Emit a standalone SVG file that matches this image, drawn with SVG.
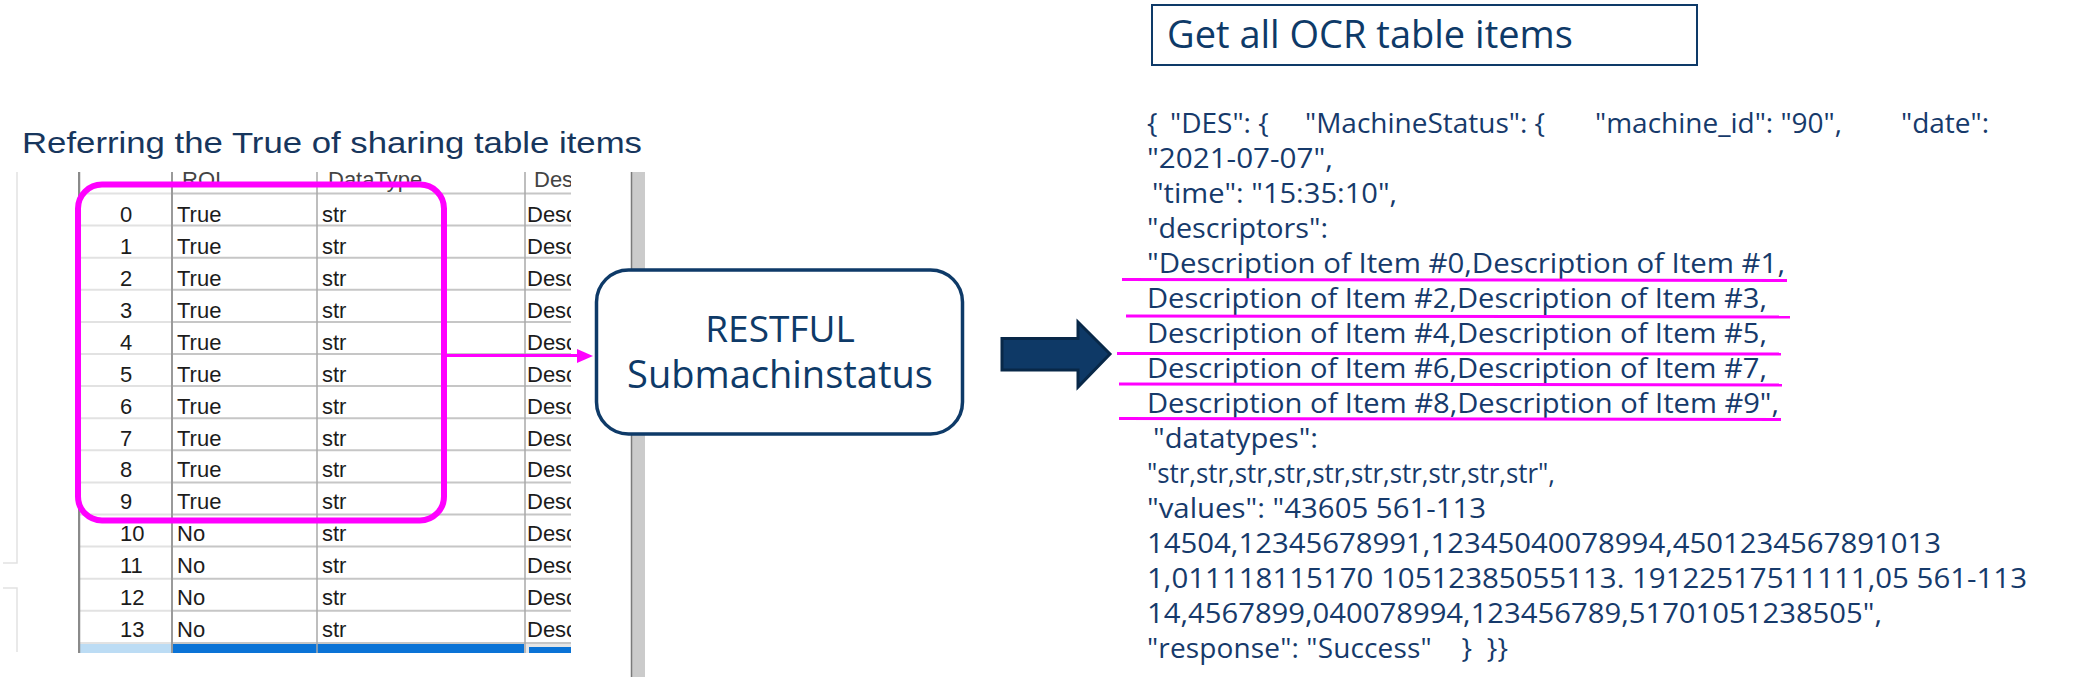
<svg xmlns="http://www.w3.org/2000/svg" width="2077" height="684" viewBox="0 0 2077 684">
<style>
.title{font-family:"Liberation Sans",Arial,sans-serif;font-size:30px;fill:#17365d}
.cell{font-family:"Liberation Sans",Arial,sans-serif;font-size:22px;fill:#1c1c1c}
.hdr{font-family:"Liberation Sans",Arial,sans-serif;font-size:22px;fill:#444}
.json{font-family:"Open Sans","Noto Sans",sans-serif;font-size:28px;fill:#163a6b;white-space:pre}
.box{font-family:"Open Sans","Noto Sans",sans-serif;fill:#0e3a68}
.rowl{stroke:#c6c6c6;stroke-width:2}
.rowi{stroke:#e2e2e2;stroke-width:2}
.vl{stroke:#a8a8a8;stroke-width:1.5}
.hl{stroke:#ff00ff;stroke-width:3;fill:none}
</style>
<defs>
<clipPath id="tclip"><rect x="78" y="172" width="493" height="481"/></clipPath>
</defs>
<rect width="2077" height="684" fill="#fff"/>

<g id="title">
<text class="title" x="22" y="153" textLength="620" lengthAdjust="spacingAndGlyphs">Referring the True of sharing table items</text>
</g>

<g id="table-screenshot">
<g stroke="#e2e2e2" stroke-width="1.5" fill="none">
<polyline points="17,172 17,563 3,563"/>
<polyline points="3,588 17,588 17,652"/>
</g>
<g clip-path="url(#tclip)">
<g id="rowlines">
<line class="rowi" x1="80" y1="193.5" x2="172" y2="193.5"/><line class="rowl" x1="172" y1="193.5" x2="571" y2="193.5"/>
<line class="rowi" x1="80" y1="225.6" x2="172" y2="225.6"/><line class="rowl" x1="172" y1="225.6" x2="571" y2="225.6"/>
<line class="rowi" x1="80" y1="257.7" x2="172" y2="257.7"/><line class="rowl" x1="172" y1="257.7" x2="571" y2="257.7"/>
<line class="rowi" x1="80" y1="289.8" x2="172" y2="289.8"/><line class="rowl" x1="172" y1="289.8" x2="571" y2="289.8"/>
<line class="rowi" x1="80" y1="321.9" x2="172" y2="321.9"/><line class="rowl" x1="172" y1="321.9" x2="571" y2="321.9"/>
<line class="rowi" x1="80" y1="354" x2="172" y2="354"/><line class="rowl" x1="172" y1="354" x2="571" y2="354"/>
<line class="rowi" x1="80" y1="386.1" x2="172" y2="386.1"/><line class="rowl" x1="172" y1="386.1" x2="571" y2="386.1"/>
<line class="rowi" x1="80" y1="418.2" x2="172" y2="418.2"/><line class="rowl" x1="172" y1="418.2" x2="571" y2="418.2"/>
<line class="rowi" x1="80" y1="450.3" x2="172" y2="450.3"/><line class="rowl" x1="172" y1="450.3" x2="571" y2="450.3"/>
<line class="rowi" x1="80" y1="482.4" x2="172" y2="482.4"/><line class="rowl" x1="172" y1="482.4" x2="571" y2="482.4"/>
<line class="rowi" x1="80" y1="514.5" x2="172" y2="514.5"/><line class="rowl" x1="172" y1="514.5" x2="571" y2="514.5"/>
<line class="rowi" x1="80" y1="546.6" x2="172" y2="546.6"/><line class="rowl" x1="172" y1="546.6" x2="571" y2="546.6"/>
<line class="rowi" x1="80" y1="578.7" x2="172" y2="578.7"/><line class="rowl" x1="172" y1="578.7" x2="571" y2="578.7"/>
<line class="rowi" x1="80" y1="610.8" x2="172" y2="610.8"/><line class="rowl" x1="172" y1="610.8" x2="571" y2="610.8"/>
<line class="rowi" x1="80" y1="642.9" x2="172" y2="642.9"/><line class="rowl" x1="172" y1="642.9" x2="571" y2="642.9"/>
</g>
<rect x="80" y="644" width="92" height="9" fill="#bcdcf4"/>
<rect x="172" y="644" width="352" height="9" fill="#0a73d6"/>
<rect x="524" y="644" width="47" height="9" fill="#e6e6e6"/>
<rect x="529" y="647" width="42" height="6" fill="#0a73d6"/>
<line x1="79" y1="172" x2="79" y2="653" stroke="#8a8a8a" stroke-width="2.5"/>
<line x1="172" y1="172" x2="172" y2="653" stroke="#9a9a9a" stroke-width="2"/>
<line class="vl" x1="317" y1="172" x2="317" y2="653"/>
<line class="vl" x1="525" y1="172" x2="525" y2="653"/>
<text class="hdr" x="182" y="187">ROI</text>
<text class="hdr" x="328" y="187">DataType</text>
<text class="hdr" x="534" y="187">Des</text>
<g class="cell">
<text x="120" y="222">0</text><text x="177" y="222">True</text><text x="322" y="222">str</text><text x="527" y="222">Desc</text>
<text x="120" y="254">1</text><text x="177" y="254">True</text><text x="322" y="254">str</text><text x="527" y="254">Desc</text>
<text x="120" y="286">2</text><text x="177" y="286">True</text><text x="322" y="286">str</text><text x="527" y="286">Desc</text>
<text x="120" y="318">3</text><text x="177" y="318">True</text><text x="322" y="318">str</text><text x="527" y="318">Desc</text>
<text x="120" y="350">4</text><text x="177" y="350">True</text><text x="322" y="350">str</text><text x="527" y="350">Desc</text>
<text x="120" y="382">5</text><text x="177" y="382">True</text><text x="322" y="382">str</text><text x="527" y="382">Desc</text>
<text x="120" y="414">6</text><text x="177" y="414">True</text><text x="322" y="414">str</text><text x="527" y="414">Desc</text>
<text x="120" y="446">7</text><text x="177" y="446">True</text><text x="322" y="446">str</text><text x="527" y="446">Desc</text>
<text x="120" y="477">8</text><text x="177" y="477">True</text><text x="322" y="477">str</text><text x="527" y="477">Desc</text>
<text x="120" y="509">9</text><text x="177" y="509">True</text><text x="322" y="509">str</text><text x="527" y="509">Desc</text>
<text x="120" y="541">10</text><text x="177" y="541">No</text><text x="322" y="541">str</text><text x="527" y="541">Desc</text>
<text x="120" y="573">11</text><text x="177" y="573">No</text><text x="322" y="573">str</text><text x="527" y="573">Desc</text>
<text x="120" y="605">12</text><text x="177" y="605">No</text><text x="322" y="605">str</text><text x="527" y="605">Desc</text>
<text x="120" y="637">13</text><text x="177" y="637">No</text><text x="322" y="637">str</text><text x="527" y="637">Desc</text>
</g>
</g>
<rect x="631" y="172" width="14" height="505" fill="#cbcbcb"/>
<line x1="631.5" y1="172" x2="631.5" y2="677" stroke="#7a7a7a" stroke-width="1.5"/>
</g>

<g id="highlight-true-rows">
<rect x="78" y="184.5" width="366" height="336" rx="24" fill="none" stroke="#ff00ff" stroke-width="6"/>
</g>

<g id="restful">
<rect x="596.5" y="270" width="366" height="164" rx="32" fill="#fff" stroke="#0e3a68" stroke-width="3.5"/>
<text class="box" x="780" y="342" font-size="37" text-anchor="middle">RESTFUL</text>
<text class="box" x="780" y="388" font-size="38" text-anchor="middle">Submachinstatus</text>
</g>

<g id="ocr-title">
<rect x="1152" y="5" width="545" height="60" fill="#fff" stroke="#0e3a68" stroke-width="2"/>
<text class="box" x="1167" y="48" font-size="38">Get all OCR table items</text>
</g>

<g id="json">
<text class="json" y="133"><tspan x="1147">{</tspan><tspan x="1170">"DES": {</tspan><tspan x="1305">"MachineStatus": {</tspan><tspan x="1595">"machine_id": "90",</tspan><tspan x="1901">"date":</tspan></text>
<text class="json" x="1147" y="168" textLength="186" lengthAdjust="spacingAndGlyphs">"2021-07-07",</text>
<text class="json" x="1152" y="203" textLength="245" lengthAdjust="spacingAndGlyphs">"time": "15:35:10",</text>
<text class="json" x="1147" y="238" textLength="181" lengthAdjust="spacingAndGlyphs">"descriptors":</text>
<text class="json" x="1147" y="273" textLength="638" lengthAdjust="spacingAndGlyphs">"Description of Item #0,Description of Item #1,</text>
<text class="json" x="1147" y="308" textLength="620" lengthAdjust="spacingAndGlyphs">Description of Item #2,Description of Item #3,</text>
<text class="json" x="1147" y="343" textLength="620" lengthAdjust="spacingAndGlyphs">Description of Item #4,Description of Item #5,</text>
<text class="json" x="1147" y="378" textLength="620" lengthAdjust="spacingAndGlyphs">Description of Item #6,Description of Item #7,</text>
<text class="json" x="1147" y="413" textLength="632" lengthAdjust="spacingAndGlyphs">Description of Item #8,Description of Item #9",</text>
<text class="json" x="1153" y="448" textLength="165" lengthAdjust="spacingAndGlyphs">"datatypes":</text>
<text class="json" x="1147" y="483" textLength="408" lengthAdjust="spacingAndGlyphs">"str,str,str,str,str,str,str,str,str,str",</text>
<text class="json" x="1147" y="518" textLength="339" lengthAdjust="spacingAndGlyphs">"values": "43605 561-113</text>
<text class="json" x="1147" y="553" textLength="794" lengthAdjust="spacingAndGlyphs">14504,12345678991,12345040078994,4501234567891013</text>
<text class="json" x="1147" y="588" textLength="880" lengthAdjust="spacingAndGlyphs">1,011118115170 10512385055113. 19122517511111,05 561-113</text>
<text class="json" x="1147" y="623" textLength="735" lengthAdjust="spacingAndGlyphs">14,4567899,040078994,123456789,51701051238505",</text>
<text class="json" x="1147" y="658" textLength="361" lengthAdjust="spacing">"response": "Success"    }  }}</text>
</g>

<g id="highlights">
<line class="hl" x1="1122" y1="279.5" x2="1787" y2="280.5"/>
<line class="hl" x1="1126" y1="316" x2="1790" y2="317"/>
<line class="hl" x1="1117" y1="353.5" x2="1781" y2="354"/>
<line class="hl" x1="1119" y1="384" x2="1782" y2="385"/>
<line class="hl" x1="1119" y1="418.5" x2="1781" y2="419.5"/>
</g>

<g id="connectors">
<line x1="447" y1="355.5" x2="579" y2="355.5" stroke="#ff00ff" stroke-width="3"/>
<polygon points="577,349 593,356 577,363" fill="#ff00ff"/>
<polygon points="1002,338.5 1078,338.5 1078,322 1110,354 1078,387 1078,370 1002,370" fill="#0e3966" stroke="#082848" stroke-width="3" stroke-linejoin="miter"/>
</g>
</svg>
